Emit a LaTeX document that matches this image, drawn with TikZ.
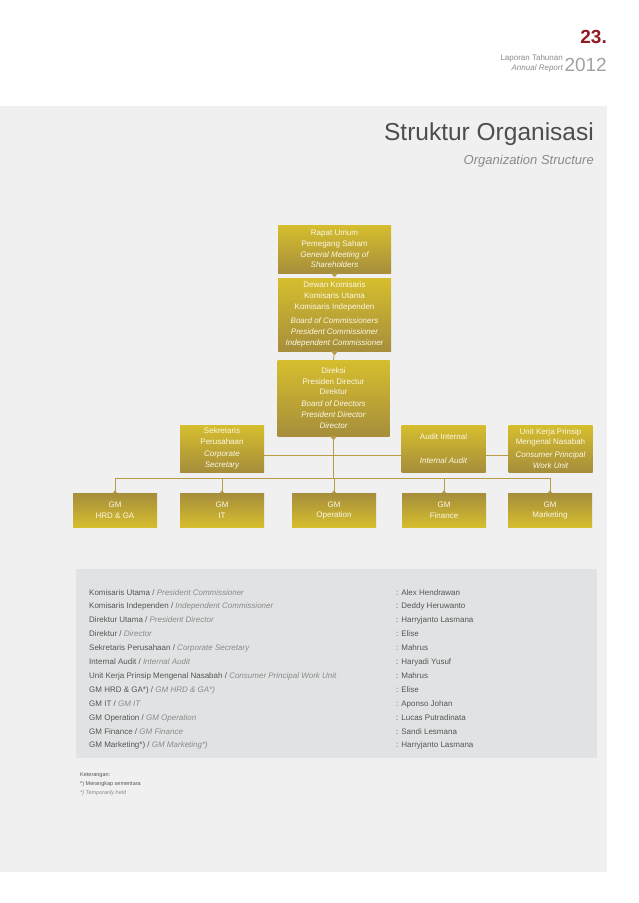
\documentclass[tikz,border=0pt]{standalone}
\usepackage{fontspec}
\setmainfont{Liberation Sans}
\usepackage{tikz}
\usepackage{xcolor}

\definecolor{pagebg}{HTML}{EFF0EF}
\definecolor{tablebg}{HTML}{E1E2E3}
\definecolor{goldtop}{HTML}{D6BE2E}
\definecolor{goldbot}{HTML}{A68E3C}
\definecolor{linkcol}{HTML}{B59C45}
\definecolor{titlecol}{HTML}{4D4D4D}
\definecolor{engcol}{HTML}{8A8A8A}
\definecolor{rowcol}{HTML}{555555}
\definecolor{numred}{HTML}{8E1B22}
\definecolor{boxtext}{HTML}{FCF8E6}

\begin{document}
\begin{tikzpicture}[x=1pt,y=-1pt,
  box/.style={top color=goldtop,bottom color=goldbot,draw=none,inner sep=0pt,
    align=center,text=boxtext,font=\fontsize{8}{10.8}\selectfont},
  gmbox/.style={box,top color=goldbot,bottom color=goldtop,
    minimum width=84pt,minimum height=34pt},
  sidebox/.style={box,minimum width=84pt,minimum height=47pt},
  link/.style={draw=linkcol,line width=0.8pt},
  rowtxt/.style={anchor=base west,text=rowcol,font=\fontsize{8}{10}\selectfont,inner sep=0pt},
  notetxt/.style={anchor=base west,text=rowcol,font=\fontsize{5.5}{6}\selectfont,inner sep=0pt}]
\useasboundingbox (0,0) rectangle (638,903);
\fill[pagebg] (0,106) rectangle (607,872);
\fill[tablebg] (76,569) rectangle (597,758);

% header
\node[anchor=base east,inner sep=0pt,text=numred,font=\bfseries\fontsize{19}{19}\selectfont] (pagenum) at (607,43) {23.};
\node[anchor=base east,inner sep=0pt,text=engcol!80,font=\fontsize{19}{19}\selectfont] (year) at (607,71) {2012};
\node[anchor=base east,inner sep=0pt,text=engcol,font=\fontsize{8}{8}\selectfont] (laporan) at (563,60) {Laporan Tahunan};
\node[anchor=base east,inner sep=0pt,text=engcol,font=\itshape\fontsize{8}{8}\selectfont] (annual) at (563,70) {Annual Report};
\node[anchor=base east,inner sep=0pt,text=titlecol,font=\fontsize{24.5}{24.5}\selectfont] (title) at (594,140) {Struktur Organisasi};
\node[anchor=base east,inner sep=0pt,text=engcol,font=\itshape\fontsize{13}{13}\selectfont] (subtitle) at (594,164) {Organization Structure};

% chart
\node[box,minimum width=113pt,minimum height=48pt] (rapat) at (334.5,249)
  {Rapat Umum\\Pemegang Saham\\\itshape General Meeting of\\\itshape Shareholders};
\node[box,minimum width=113pt,minimum height=73pt] (dewan) at (334.5,314.5)
  {Dewan Komisaris\\Komisaris Utama\\Komisaris Independen\\[3.5pt]
   \itshape Board of Commissioners\\\itshape President Commissioner\\\itshape Independent Commissioner};
\node[box,minimum width=112pt,minimum height=76pt] (direksi) at (333.5,398)
  {Direksi\\Presiden Directur\\Direktur\\[1pt]
   \itshape Board of Directors\\\itshape President Director\\\itshape Director};
\node[sidebox] (sekretaris) at (222,448.5)
  {Sekretaris\\Perusahaan\\[2pt]\itshape Corporate\\\itshape Secretary};
\node[sidebox] (audit) at (443.5,448.5)
  {Audit Internal\\[13pt]\itshape Internal Audit};
\node[sidebox] (unitkerja) at (550.5,448.5)
  {Unit Kerja Prinsip\\Mengenal Nasabah\\[2pt]\itshape Consumer Principal\\\itshape Work Unit};

\node[gmbox] (gmhrd) at (115,510.5) {GM\\HRD \& GA};
\node[gmbox] (gmit) at (222,510.5) {GM\\IT};
\node[gmbox] (gmops) at (334,510.5) {GM\\Operation};
\node[gmbox] (gmfin) at (444,510.5) {GM\\Finance};
\node[gmbox] (gmmkt) at (550,510.5) {GM\\Marketing};

\coordinate (busL) at (115,478);
\coordinate (busR) at (550,478);

\draw[link] (dewan.south) -- (direksi.north);
\draw[link] (direksi.south) -- (direksi.south |- busL);
\draw[link] (busL) -- (busR);
\draw[link] ([yshift=-6.5pt]sekretaris.east) -- ([yshift=-6.5pt]audit.west);
\draw[link] ([yshift=-6.5pt]audit.east) -- ([yshift=-6.5pt]unitkerja.west);
\draw[link] (gmhrd.north |- busL) -- (gmhrd.north);
\draw[link] (gmit.north |- busL) -- (gmit.north);
\draw[link] (gmops.north |- busL) -- (gmops.north);
\draw[link] (gmfin.north |- busL) -- (gmfin.north);
\draw[link] (gmmkt.north |- busL) -- (gmmkt.north);

\fill[linkcol] (rapat.south) ++(-3.5,0) -- ++(7,0) -- ++(-3.5,4) -- cycle;
\fill[linkcol] (dewan.south) ++(-3.5,0) -- ++(7,0) -- ++(-3.5,4) -- cycle;
\fill[linkcol] (direksi.south) ++(-3.5,0) -- ++(7,0) -- ++(-3.5,4) -- cycle;
\fill[linkcol] (gmhrd.north) ++(-2.5,0) -- ++(5,0) -- ++(-2.5,-3) -- cycle;
\fill[linkcol] (gmit.north) ++(-2.5,0) -- ++(5,0) -- ++(-2.5,-3) -- cycle;
\fill[linkcol] (gmops.north) ++(-2.5,0) -- ++(5,0) -- ++(-2.5,-3) -- cycle;
\fill[linkcol] (gmfin.north) ++(-2.5,0) -- ++(5,0) -- ++(-2.5,-3) -- cycle;
\fill[linkcol] (gmmkt.north) ++(-2.5,0) -- ++(5,0) -- ++(-2.5,-3) -- cycle;

% officers
\foreach \id/\eng/\who [count=\r from 0] in {
  {Komisaris Utama}/{President Commissioner}/{Alex Hendrawan},
  {Komisaris Independen}/{Independent Commissioner}/{Deddy Heruwanto},
  {Direktur Utama}/{President Director}/{Harryjanto Lasmana},
  {Direktur}/{Director}/{Elise},
  {Sekretaris Perusahaan}/{Corporate Secretary}/{Mahrus},
  {Internal Audit}/{Internal Audit}/{Haryadi Yusuf},
  {Unit Kerja Prinsip Mengenal Nasabah}/{Consumer Principal Work Unit}/{Mahrus},
  {GM HRD \& GA*)}/{GM HRD \& GA*)}/{Elise},
  {GM IT}/{GM IT}/{Aponso Johan},
  {GM Operation}/{GM Operation}/{Lucas Putradinata},
  {GM Finance}/{GM Finance}/{Sandi Lesmana},
  {GM Marketing*)}/{GM Marketing*)}/{Harryjanto Lasmana}}
{
  \node[rowtxt] (role\r) at (89,{595+13.9*\r}) {\id\ / {\itshape\color{engcol}\eng}};
  \node[rowtxt] (name\r) at (396,{595+13.9*\r}) {: \who};
}

\node[notetxt] (ket) at (80,776) {Keterangan:};
\node[notetxt] (ketid) at (80,785) {*) Merangkap sementara};
\node[notetxt,text=engcol,font=\itshape\fontsize{5.5}{6}\selectfont] (keten) at (80,794) {*) Temporarily held};
\end{tikzpicture}
\end{document}
